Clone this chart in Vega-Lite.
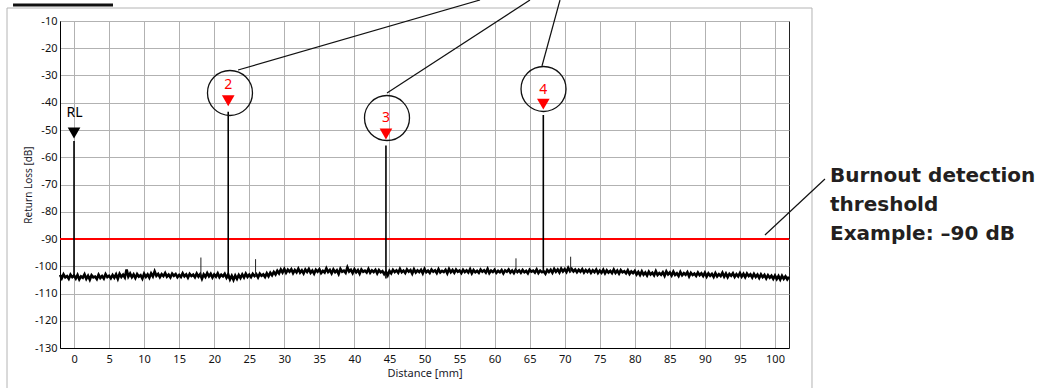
{
  "$schema": "https://vega.github.io/schema/vega-lite/v6.json",
  "width": 729,
  "height": 327,
  "autosize": "none",
  "padding": {"left": 60, "top": 21, "right": 251, "bottom": 40},
  "background": "#ffffff",
  "config": {
    "view": {"stroke": "#222", "strokeWidth": 1},
    "axis": {
      "labelFont": "Noto Sans", "labelFontSize": 11, "labelColor": "#111", "labelOverlap": false,
      "labelExpr": "replace(datum.label, '\u2212', '-')",
      "titleFont": "Noto Sans", "titleFontWeight": "normal", "titleColor": "#1a1a2a",
      "gridColor": "#b2b2b2", "gridWidth": 1, "gridOpacity": 1,
      "domainColor": "#000", "ticks": false
    }
  },
  "datasets": {
    "trace": [
      {"d":-2,"v":-103.2},{"d":-1.75,"v":-104.4},{"d":-1.5,"v":-103.0},{"d":-1.25,"v":-104.1},{"d":-1,"v":-103.6},{"d":-0.75,"v":-104.6},{"d":-0.5,"v":-103.1},{"d":-0.25,"v":-104.0},
      {"d":0,"v":-103.4},{"d":0.25,"v":-104.5},{"d":0.5,"v":-103.2},{"d":0.75,"v":-104.8},{"d":1,"v":-103.7},{"d":1.25,"v":-104.2},{"d":1.5,"v":-103.0},{"d":1.75,"v":-104.6},
      {"d":2,"v":-103.5},{"d":2.25,"v":-104.9},{"d":2.5,"v":-103.3},{"d":2.75,"v":-104.1},{"d":3,"v":-103.8},{"d":3.25,"v":-104.7},{"d":3.5,"v":-103.1},{"d":3.75,"v":-104.3},
      {"d":4,"v":-103.6},{"d":4.25,"v":-104.5},{"d":4.5,"v":-102.9},{"d":4.75,"v":-104.0},{"d":5,"v":-103.5},{"d":5.25,"v":-104.4},{"d":5.5,"v":-103.2},{"d":5.75,"v":-104.2},
      {"d":6,"v":-103.0},{"d":6.25,"v":-104.6},{"d":6.5,"v":-102.8},{"d":6.75,"v":-103.9},{"d":7,"v":-103.1},{"d":7.25,"v":-104.1},{"d":7.5,"v":-101.2},{"d":7.75,"v":-103.8},
      {"d":8,"v":-102.7},{"d":8.25,"v":-104.0},{"d":8.5,"v":-103.0},{"d":8.75,"v":-104.3},{"d":9,"v":-102.9},{"d":9.25,"v":-103.8},{"d":9.5,"v":-103.3},{"d":9.75,"v":-104.5},
      {"d":10,"v":-102.8},{"d":10.25,"v":-103.9},{"d":10.5,"v":-103.0},{"d":10.75,"v":-104.2},{"d":11,"v":-102.6},{"d":11.25,"v":-103.7},{"d":11.5,"v":-101.9},{"d":11.75,"v":-103.5},
      {"d":12,"v":-102.8},{"d":12.25,"v":-104.0},{"d":12.5,"v":-102.9},{"d":12.75,"v":-103.6},{"d":13,"v":-102.5},{"d":13.25,"v":-103.8},{"d":13.5,"v":-103.1},{"d":13.75,"v":-104.1},
      {"d":14,"v":-102.7},{"d":14.25,"v":-103.5},{"d":14.5,"v":-102.9},{"d":14.75,"v":-104.0},{"d":15,"v":-103.2},{"d":15.25,"v":-103.9},{"d":15.5,"v":-102.6},{"d":15.75,"v":-103.7},
      {"d":16,"v":-103.0},{"d":16.25,"v":-104.2},{"d":16.5,"v":-102.8},{"d":16.75,"v":-103.6},{"d":17,"v":-103.1},{"d":17.25,"v":-104.0},{"d":17.5,"v":-102.7},{"d":17.75,"v":-103.8},
      {"d":18,"v":-102.9},{"d":18.25,"v":-104.6},{"d":18.5,"v":-103.0},{"d":18.75,"v":-103.9},{"d":19,"v":-102.5},{"d":19.25,"v":-103.7},{"d":19.5,"v":-102.8},{"d":19.75,"v":-104.1},
      {"d":20,"v":-103.0},{"d":20.25,"v":-103.8},{"d":20.5,"v":-102.6},{"d":20.75,"v":-104.0},{"d":21,"v":-103.1},{"d":21.25,"v":-103.7},{"d":21.5,"v":-102.8},{"d":21.75,"v":-104.2},
      {"d":22,"v":-103.0},{"d":22.25,"v":-104.8},{"d":22.5,"v":-103.5},{"d":22.75,"v":-105.0},{"d":23,"v":-103.4},{"d":23.25,"v":-104.6},{"d":23.5,"v":-103.2},{"d":23.75,"v":-104.3},
      {"d":24,"v":-103.0},{"d":24.25,"v":-104.1},{"d":24.5,"v":-102.7},{"d":24.75,"v":-103.9},{"d":25,"v":-103.1},{"d":25.25,"v":-104.0},{"d":25.5,"v":-102.8},{"d":25.75,"v":-103.6},
      {"d":26,"v":-102.9},{"d":26.25,"v":-104.1},{"d":26.5,"v":-102.7},{"d":26.75,"v":-103.5},{"d":27,"v":-103.0},{"d":27.25,"v":-103.9},{"d":27.5,"v":-102.6},{"d":27.75,"v":-103.7},
      {"d":28,"v":-102.4},{"d":28.25,"v":-103.3},{"d":28.5,"v":-102.1},{"d":28.75,"v":-103.0},{"d":29,"v":-101.7},{"d":29.25,"v":-102.6},{"d":29.5,"v":-101.2},{"d":29.75,"v":-102.3},
      {"d":30,"v":-101.0},{"d":30.25,"v":-102.4},{"d":30.5,"v":-101.3},{"d":30.75,"v":-102.0},{"d":31,"v":-101.1},{"d":31.25,"v":-102.5},{"d":31.5,"v":-101.4},{"d":31.75,"v":-102.2},
      {"d":32,"v":-100.9},{"d":32.25,"v":-102.3},{"d":32.5,"v":-101.5},{"d":32.75,"v":-102.6},{"d":33,"v":-101.2},{"d":33.25,"v":-102.1},{"d":33.5,"v":-101.0},{"d":33.75,"v":-102.4},
      {"d":34,"v":-101.6},{"d":34.25,"v":-102.7},{"d":34.5,"v":-101.3},{"d":34.75,"v":-102.0},{"d":35,"v":-101.1},{"d":35.25,"v":-102.5},{"d":35.5,"v":-101.7},{"d":35.75,"v":-102.3},
      {"d":36,"v":-100.8},{"d":36.25,"v":-102.1},{"d":36.5,"v":-101.4},{"d":36.75,"v":-102.6},{"d":37,"v":-101.2},{"d":37.25,"v":-102.2},{"d":37.5,"v":-101.5},{"d":37.75,"v":-102.8},
      {"d":38,"v":-101.0},{"d":38.25,"v":-102.0},{"d":38.5,"v":-101.6},{"d":38.75,"v":-102.4},{"d":39,"v":-100.4},{"d":39.25,"v":-101.9},{"d":39.5,"v":-101.3},{"d":39.75,"v":-102.5},
      {"d":40,"v":-101.1},{"d":40.25,"v":-102.2},{"d":40.5,"v":-101.4},{"d":40.75,"v":-102.7},{"d":41,"v":-101.2},{"d":41.25,"v":-102.0},{"d":41.5,"v":-101.6},{"d":41.75,"v":-102.3},
      {"d":42,"v":-101.0},{"d":42.25,"v":-102.4},{"d":42.5,"v":-101.5},{"d":42.75,"v":-102.1},{"d":43,"v":-101.3},{"d":43.25,"v":-102.6},{"d":43.5,"v":-101.4},{"d":43.75,"v":-102.2},
      {"d":44,"v":-101.8},{"d":44.25,"v":-102.9},{"d":44.5,"v":-102.0},{"d":44.75,"v":-103.3},{"d":45,"v":-101.7},{"d":45.25,"v":-102.6},{"d":45.5,"v":-101.3},{"d":45.75,"v":-102.1},
      {"d":46,"v":-101.5},{"d":46.25,"v":-102.4},{"d":46.5,"v":-101.0},{"d":46.75,"v":-102.2},{"d":47,"v":-101.6},{"d":47.25,"v":-102.5},{"d":47.5,"v":-101.2},{"d":47.75,"v":-102.0},
      {"d":48,"v":-101.4},{"d":48.25,"v":-102.7},{"d":48.5,"v":-101.1},{"d":48.75,"v":-102.3},{"d":49,"v":-101.5},{"d":49.25,"v":-102.1},{"d":49.5,"v":-101.3},{"d":49.75,"v":-102.6},
      {"d":50,"v":-101.0},{"d":50.25,"v":-102.2},{"d":50.5,"v":-101.6},{"d":50.75,"v":-102.4},{"d":51,"v":-101.2},{"d":51.25,"v":-102.0},{"d":51.5,"v":-101.5},{"d":51.75,"v":-102.5},
      {"d":52,"v":-101.1},{"d":52.25,"v":-102.3},{"d":52.5,"v":-101.7},{"d":52.75,"v":-102.1},{"d":53,"v":-101.3},{"d":53.25,"v":-102.6},{"d":53.5,"v":-101.0},{"d":53.75,"v":-102.2},
      {"d":54,"v":-101.4},{"d":54.25,"v":-102.4},{"d":54.5,"v":-101.2},{"d":54.75,"v":-102.0},{"d":55,"v":-101.6},{"d":55.25,"v":-102.5},{"d":55.5,"v":-101.3},{"d":55.75,"v":-102.1},
      {"d":56,"v":-101.5},{"d":56.25,"v":-102.3},{"d":56.5,"v":-101.1},{"d":56.75,"v":-102.6},{"d":57,"v":-101.4},{"d":57.25,"v":-102.2},{"d":57.5,"v":-101.7},{"d":57.75,"v":-102.4},
      {"d":58,"v":-101.2},{"d":58.25,"v":-102.0},{"d":58.5,"v":-101.5},{"d":58.75,"v":-102.3},{"d":59,"v":-101.0},{"d":59.25,"v":-102.5},{"d":59.5,"v":-101.6},{"d":59.75,"v":-102.1},
      {"d":60,"v":-101.3},{"d":60.25,"v":-102.4},{"d":60.5,"v":-101.7},{"d":60.75,"v":-102.2},{"d":61,"v":-101.4},{"d":61.25,"v":-102.6},{"d":61.5,"v":-101.5},{"d":61.75,"v":-102.0},
      {"d":62,"v":-101.2},{"d":62.25,"v":-102.3},{"d":62.5,"v":-101.6},{"d":62.75,"v":-102.5},{"d":63,"v":-101.3},{"d":63.25,"v":-102.1},{"d":63.5,"v":-101.5},{"d":63.75,"v":-102.4},
      {"d":64,"v":-101.4},{"d":64.25,"v":-102.2},{"d":64.5,"v":-101.7},{"d":64.75,"v":-102.6},{"d":65,"v":-101.3},{"d":65.25,"v":-102.0},{"d":65.5,"v":-101.6},{"d":65.75,"v":-102.3},
      {"d":66,"v":-101.2},{"d":66.25,"v":-102.5},{"d":66.5,"v":-101.6},{"d":66.75,"v":-102.2},{"d":67,"v":-101.8},{"d":67.25,"v":-102.7},{"d":67.5,"v":-101.4},{"d":67.75,"v":-102.1},
      {"d":68,"v":-101.3},{"d":68.25,"v":-102.4},{"d":68.5,"v":-101.0},{"d":68.75,"v":-102.0},{"d":69,"v":-101.2},{"d":69.25,"v":-102.3},{"d":69.5,"v":-100.9},{"d":69.75,"v":-101.9},
      {"d":70,"v":-101.1},{"d":70.25,"v":-102.1},{"d":70.5,"v":-100.6},{"d":70.75,"v":-101.8},{"d":71,"v":-101.0},{"d":71.25,"v":-101.9},{"d":71.5,"v":-101.2},{"d":71.75,"v":-102.2},
      {"d":72,"v":-101.3},{"d":72.25,"v":-102.0},{"d":72.5,"v":-101.1},{"d":72.75,"v":-102.3},{"d":73,"v":-101.4},{"d":73.25,"v":-102.1},{"d":73.5,"v":-101.3},{"d":73.75,"v":-102.4},
      {"d":74,"v":-101.5},{"d":74.25,"v":-102.2},{"d":74.5,"v":-101.2},{"d":74.75,"v":-102.5},{"d":75,"v":-101.6},{"d":75.25,"v":-102.4},{"d":75.5,"v":-101.3},{"d":75.75,"v":-102.6},
      {"d":76,"v":-101.5},{"d":76.25,"v":-102.3},{"d":76.5,"v":-101.7},{"d":76.75,"v":-102.5},{"d":77,"v":-101.2},{"d":77.25,"v":-102.4},{"d":77.5,"v":-101.6},{"d":77.75,"v":-102.7},
      {"d":78,"v":-101.4},{"d":78.25,"v":-102.2},{"d":78.5,"v":-101.8},{"d":78.75,"v":-102.6},{"d":79,"v":-101.5},{"d":79.25,"v":-102.8},{"d":79.5,"v":-101.9},{"d":79.75,"v":-102.5},
      {"d":80,"v":-101.7},{"d":80.25,"v":-103.0},{"d":80.5,"v":-102.1},{"d":80.75,"v":-103.2},{"d":81,"v":-101.9},{"d":81.25,"v":-103.1},{"d":81.5,"v":-102.3},{"d":81.75,"v":-103.4},
      {"d":82,"v":-102.0},{"d":82.25,"v":-103.0},{"d":82.5,"v":-102.4},{"d":82.75,"v":-103.3},{"d":83,"v":-101.8},{"d":83.25,"v":-103.2},{"d":83.5,"v":-102.5},{"d":83.75,"v":-103.1},
      {"d":84,"v":-102.2},{"d":84.25,"v":-103.5},{"d":84.5,"v":-101.9},{"d":84.75,"v":-103.0},{"d":85,"v":-102.3},{"d":85.25,"v":-103.4},{"d":85.5,"v":-102.0},{"d":85.75,"v":-103.2},
      {"d":86,"v":-102.6},{"d":86.25,"v":-103.6},{"d":86.5,"v":-102.1},{"d":86.75,"v":-103.3},{"d":87,"v":-102.5},{"d":87.25,"v":-103.1},{"d":87.5,"v":-102.2},{"d":87.75,"v":-103.7},
      {"d":88,"v":-102.4},{"d":88.25,"v":-103.2},{"d":88.5,"v":-102.7},{"d":88.75,"v":-103.5},{"d":89,"v":-102.3},{"d":89.25,"v":-103.3},{"d":89.5,"v":-102.6},{"d":89.75,"v":-103.6},
      {"d":90,"v":-102.4},{"d":90.25,"v":-103.8},{"d":90.5,"v":-102.6},{"d":90.75,"v":-103.5},{"d":91,"v":-102.8},{"d":91.25,"v":-103.9},{"d":91.5,"v":-102.5},{"d":91.75,"v":-103.7},
      {"d":92,"v":-102.9},{"d":92.25,"v":-103.6},{"d":92.5,"v":-102.4},{"d":92.75,"v":-103.8},{"d":93,"v":-102.7},{"d":93.25,"v":-104.0},{"d":93.5,"v":-102.8},{"d":93.75,"v":-103.5},
      {"d":94,"v":-102.6},{"d":94.25,"v":-103.9},{"d":94.5,"v":-102.9},{"d":94.75,"v":-103.7},{"d":95,"v":-102.5},{"d":95.25,"v":-103.8},{"d":95.5,"v":-102.8},{"d":95.75,"v":-104.0},
      {"d":96,"v":-102.7},{"d":96.25,"v":-103.6},{"d":96.5,"v":-103.0},{"d":96.75,"v":-104.1},{"d":97,"v":-102.8},{"d":97.25,"v":-103.9},{"d":97.5,"v":-103.1},{"d":97.75,"v":-104.3},
      {"d":98,"v":-103.0},{"d":98.25,"v":-104.0},{"d":98.5,"v":-103.2},{"d":98.75,"v":-104.5},{"d":99,"v":-103.3},{"d":99.25,"v":-104.2},{"d":99.5,"v":-103.5},{"d":99.75,"v":-104.6},
      {"d":100,"v":-103.4},{"d":100.25,"v":-104.7},{"d":100.5,"v":-103.6},{"d":100.75,"v":-104.9},{"d":101,"v":-103.5},{"d":101.25,"v":-104.6},{"d":101.5,"v":-103.7},{"d":101.75,"v":-104.8},
      {"d":102,"v":-103.9}
    ],
    "bigSpikes": [
      {"d":0,"v":-54,"v2":-103.8},
      {"d":22,"v":-43.3,"v2":-104.5},
      {"d":44.5,"v":-55.7,"v2":-104.5},
      {"d":66.95,"v":-44.5,"v2":-102.5}
    ],
    "smallSpikes": [
      {"d":18.1,"v":-96.8,"v2":-103.8},
      {"d":25.9,"v":-97.4,"v2":-103.8},
      {"d":63.05,"v":-97.1,"v2":-102.3},
      {"d":70.85,"v":-96.5,"v2":-102.3}
    ],
    "threshold": [{"d": -2, "d2": 102, "v": -90}],
    "markers": [
      {"d":0,"v":-51.1,"kind":"reference"},
      {"d":22,"v":-39.3,"kind":"event"},
      {"d":44.5,"v":-51.5,"kind":"event"},
      {"d":66.95,"v":-40.5,"kind":"event"}
    ],
    "markerLabels": [
      {"d":0.07,"v":-43.8,"label":"RL","kind":"reference"},
      {"d":22,"v":-33.5,"label":"2","kind":"event"},
      {"d":44.5,"v":-45.6,"label":"3","kind":"event"},
      {"d":66.95,"v":-35.3,"label":"4","kind":"event"}
    ],
    "circles": [
      {"d":22.25,"v":-36.42},
      {"d":44.65,"v":-45.6},
      {"d":66.98,"v":-34.95}
    ],
    "leaders": [
      {"d":23.4,"v":-27.98,"d2":57.92,"v2":-2.29},
      {"d":44.65,"v":-36.4,"d2":65.05,"v2":-2.29},
      {"d":66.76,"v":-26.51,"d2":69.33,"v2":-2.29},
      {"d":98.57,"v":-88.53,"d2":107.13,"v2":-67.98}
    ],
    "note": [
      {"d":107.85,"v":-69.08,"text":"Burnout detection\nthreshold\nExample: –90 dB"}
    ],
    "frame": [
      {"d":-9.56,"v":-5.23,"d2":-9.56,"v2":-150},
      {"d":-9.56,"v":-5.23,"d2":105.28,"v2":-5.23},
      {"d":105.28,"v":-5.23,"d2":105.28,"v2":-150}
    ],
    "tab": [
      {"d":-8.7,"v":-4.13,"d2":5.56,"v2":-4.13}
    ]
  },
  "encoding": {
    "x": {"field": "d", "type": "quantitative", "scale": {"domain": [-2, 102], "nice": false, "zero": false},
          "axis": {"values": [0,5,10,15,20,25,30,35,40,45,50,55,60,65,70,75,80,85,90,95,100], "grid": true, "title": "Distance [mm]", "titleFontSize": 11, "titlePadding": 3, "labelPadding": 5}},
    "y": {"field": "v", "type": "quantitative", "scale": {"domain": [-130, -10], "nice": false, "zero": false},
          "axis": {"values": [-130,-120,-110,-100,-90,-80,-70,-60,-50,-40,-30,-20,-10], "grid": true, "title": "Return Loss [dB]", "titleFontSize": 10, "titlePadding": 1, "labelPadding": 3}}
  },
  "layer": [
    {
      "data": {"name": "frame"},
      "mark": {"type": "rule", "stroke": "#b4b4b4", "strokeWidth": 1, "clip": false},
      "encoding": {"x2": {"field": "d2"}, "y2": {"field": "v2"}}
    },
    {
      "data": {"name": "tab"},
      "mark": {"type": "rule", "stroke": "#111", "strokeWidth": 3, "clip": false},
      "encoding": {"x2": {"field": "d2"}, "y2": {"field": "v2"}}
    },
    {
      "data": {"name": "threshold"},
      "mark": {"type": "rule", "stroke": "#ff0000", "strokeWidth": 2},
      "encoding": {"x2": {"field": "d2"}}
    },
    {
      "data": {"name": "trace"},
      "mark": {"type": "line", "stroke": "#000", "strokeWidth": 2.6, "interpolate": "linear"},
      "encoding": {}
    },
    {
      "data": {"name": "bigSpikes"},
      "mark": {"type": "rule", "stroke": "#000", "strokeWidth": 1.6},
      "encoding": {"y2": {"field": "v2"}}
    },
    {
      "data": {"name": "smallSpikes"},
      "mark": {"type": "rule", "stroke": "#222", "strokeWidth": 1},
      "encoding": {"y2": {"field": "v2"}}
    },
    {
      "data": {"name": "markers"},
      "mark": {"type": "point", "shape": "triangle-down", "filled": true, "size": 160, "opacity": 1, "strokeWidth": 0},
      "encoding": {
        "color": {"field": "kind", "type": "nominal", "scale": {"domain": ["reference", "event"], "range": ["#000000", "#ff0000"]}, "legend": null}
      }
    },
    {
      "data": {"name": "markerLabels"},
      "mark": {"type": "text", "font": "Noto Sans", "fontSize": 14, "align": "center", "baseline": "middle"},
      "encoding": {
        "text": {"field": "label"},
        "color": {"field": "kind", "type": "nominal", "scale": {"domain": ["reference", "event"], "range": ["#000000", "#ff0000"]}, "legend": null}
      }
    },
    {
      "data": {"name": "circles"},
      "mark": {"type": "point", "shape": "circle", "filled": false, "size": 2025, "stroke": "#111", "strokeWidth": 1.3, "opacity": 1, "clip": false},
      "encoding": {}
    },
    {
      "data": {"name": "leaders"},
      "mark": {"type": "rule", "stroke": "#111", "strokeWidth": 1.2, "clip": false},
      "encoding": {"x2": {"field": "d2"}, "y2": {"field": "v2"}}
    },
    {
      "data": {"name": "note"},
      "mark": {"type": "text", "font": "DejaVu Sans", "fontSize": 20, "fontWeight": "bold", "align": "left", "baseline": "alphabetic", "lineBreak": "\n", "lineHeight": 29, "color": "#231f20", "clip": false},
      "encoding": {"text": {"field": "text"}}
    }
  ]
}
